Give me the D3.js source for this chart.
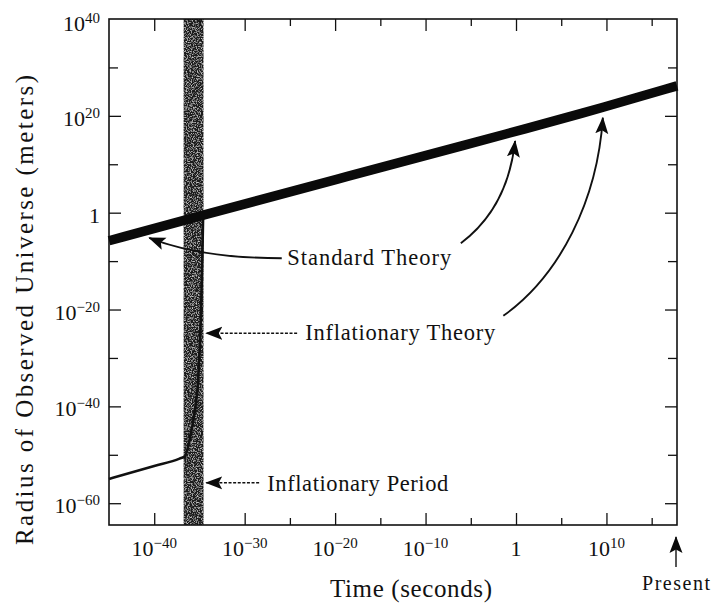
<!DOCTYPE html>
<html>
<head>
<meta charset="utf-8">
<script src="https://cdn.jsdelivr.net/npm/d3@7"></script>
<style>
  body { margin: 0; background: #fff; }
  text { font-family: "Liberation Serif", "Times New Roman", serif; fill: #111; }
</style>
</head>
<body>
<div id="chart"></div>
<script>
// values are base-10 exponents: time in seconds, radius in meters
const standardTime = [-45, -35, -20, -4, 0, 10, 17.8];
const standardRadius = [-5.8, -0.7, 6.8, 14.8, 16.8, 21.9, 26.2];

const inflationTime = [-45, -40, -37.2, -36.6, -36.1, -35.6, -35.15, -34.85, -34.7, -34.6];
const inflationRadius = [-55.0, -52.3, -50.8, -50.3, -47.0, -42.0, -34.6, -22.0, -11.0, -1.2];

const inflationPeriod = [-36.75, -34.55];

const timeTicks = [-40, -35, -30, -25, -20, -15, -10, -5, 0, 5, 10, 15];
const timeLabels = [-40, -30, -20, -10, 0, 10];
const radiusTicks = [-60, -50, -40, -30, -20, -10, 0, 10, 20, 30];
const radiusLabels = [-60, -40, -20, 0, 20, 40];

const width = 712;
const height = 605;
const plotLeft = 109, plotRight = 677, plotTop = 19, plotBottom = 525;

const svg = d3
  .select("#chart")
  .append("svg")
  .attr("width", width)
  .attr("height", height);

const x = d3.scaleLog().domain([1e-45, 10 ** 17.8]).range([plotLeft, plotRight]);
const y = d3.scaleLog().domain([10 ** -64.5, 1e40]).range([plotBottom, plotTop]);
const X = (e) => x(10 ** e);
const Y = (e) => y(10 ** e);
const exp = (d) => Math.round(Math.log10(d));

const defs = svg.append("defs");
const grain = defs.append("filter").attr("id", "grain")
  .attr("x", 0).attr("y", 0).attr("width", 1).attr("height", 1);
grain.append("feTurbulence")
  .attr("type", "fractalNoise").attr("baseFrequency", 0.8)
  .attr("numOctaves", 2).attr("seed", 7).attr("result", "noise");
grain.append("feColorMatrix")
  .attr("in", "noise").attr("type", "matrix")
  .attr("values", "0 0 0 0 0.8  0 0 0 0 0.8  0 0 0 0 0.8  2.2 0 0 0 -1.05")
  .attr("result", "specks");
grain.append("feComposite")
  .attr("in", "specks").attr("in2", "SourceGraphic").attr("operator", "atop");

defs.append("marker")
  .attr("id", "head")
  .attr("viewBox", "0 -7 17 14")
  .attr("refX", 16).attr("refY", 0)
  .attr("markerWidth", 17).attr("markerHeight", 14)
  .attr("markerUnits", "userSpaceOnUse")
  .attr("orient", "auto")
  .append("path")
  .attr("d", "M0,-6.5L17,0L0,6.5L3.5,0Z")
  .attr("fill", "#0a0a0a");

// inflationary period band
svg.append("rect")
  .attr("x", X(inflationPeriod[0]))
  .attr("y", plotTop)
  .attr("width", X(inflationPeriod[1]) - X(inflationPeriod[0]))
  .attr("height", plotBottom - plotTop)
  .attr("fill", "#1f1f1f")
  .attr("filter", "url(#grain)");

// ticks (inward) on all four sides
function tidy(g, lengthFn, sign, vertical) {
  g.select(".domain").remove();
  g.selectAll(".tick line")
    .attr("stroke", "#111")
    .attr("stroke-width", 1.3)
    .attr(vertical ? "y2" : "x2", (d) => sign * lengthFn(d));
}
const timeLen = (d) => (exp(d) % 10 === 0 ? 12 : 7);
const radiusLen = (d) => (exp(d) % 20 === 0 ? 12 : 9);
const tv = timeTicks.map((e) => 10 ** e);
const rv = radiusTicks.map((e) => 10 ** e);

svg.append("g").attr("transform", `translate(0,${plotBottom})`)
  .call(d3.axisBottom(x).tickValues(tv).tickFormat("").tickSizeOuter(0))
  .call((g) => tidy(g, timeLen, -1, true));
svg.append("g").attr("transform", `translate(0,${plotTop})`)
  .call(d3.axisTop(x).tickValues(tv).tickFormat("").tickSizeOuter(0))
  .call((g) => tidy(g, timeLen, 1, true));
svg.append("g").attr("transform", `translate(${plotLeft},0)`)
  .call(d3.axisLeft(y).tickValues(rv).tickFormat("").tickSizeOuter(0))
  .call((g) => tidy(g, radiusLen, 1, false));
svg.append("g").attr("transform", `translate(${plotRight},0)`)
  .call(d3.axisRight(y).tickValues(rv).tickFormat("").tickSizeOuter(0))
  .call((g) => tidy(g, radiusLen, -1, false));

svg.append("rect")
  .attr("x", plotLeft).attr("y", plotTop)
  .attr("width", plotRight - plotLeft).attr("height", plotBottom - plotTop)
  .attr("fill", "none").attr("stroke", "#111").attr("stroke-width", 1.6);

// tick labels with superscripts
function powerLabel(sel, e) {
  if (e === 0) {
    sel.text("1");
    return;
  }
  sel.append("tspan").text("10");
  sel.append("tspan")
    .attr("font-size", 15).attr("dy", -8)
    .text(e < 0 ? "\u2212" + Math.abs(e) : String(e));
}

timeLabels.forEach((e) => {
  svg.append("text")
    .attr("x", X(e)).attr("y", 556)
    .attr("text-anchor", "middle").attr("font-size", 22)
    .call(powerLabel, e);
});
radiusLabels.forEach((e) => {
  svg.append("text")
    .attr("x", 100).attr("y", Math.max(Y(e) + 10, plotTop + 12))
    .attr("text-anchor", "end").attr("font-size", 22)
    .call(powerLabel, e);
});

// curves
const line = d3.line()
  .x((d) => X(d[0]))
  .y((d) => Y(d[1]))
  .curve(d3.curveMonotoneX);

svg.append("path")
  .datum(d3.zip(inflationTime, inflationRadius))
  .attr("d", line)
  .attr("fill", "none").attr("stroke", "#111").attr("stroke-width", 2.6);

svg.append("path")
  .datum(d3.zip(standardTime, standardRadius))
  .attr("d", line.curve(d3.curveBasis))
  .attr("fill", "none").attr("stroke", "#0a0a0a").attr("stroke-width", 9.5);

// annotations (positions in exponent space)
const P = (t, r) => `${X(t)},${Y(r)}`;
const arrows = [
  { d: `M${P(-25.9, -9.4)}Q${P(-34.9, -9.4)} ${P(-40.55, -5.2)}`, dash: null },
  { d: `M${P(-6.1, -6.3)}Q${P(-0.9, 1.0)} ${P(-0.1, 14.8)}`, dash: null },
  { d: `M${P(-1.4, -21.3)}C${P(4.9, -12.9)} ${P(9.0, 2.6)} ${P(9.6, 19.6)}`, dash: null },
  { d: `M${P(-24.2, -24.9)}L${P(-34.25, -24.9)}`, dash: "3,1.6" },
  { d: `M${P(-28.4, -55.8)}L${P(-34.25, -55.8)}`, dash: "3,1.6" },
];
arrows.forEach((a) => {
  svg.append("path")
    .attr("d", a.d)
    .attr("fill", "none").attr("stroke", "#111")
    .attr("stroke-width", a.dash ? 1.5 : 1.9)
    .attr("stroke-dasharray", a.dash)
    .attr("marker-end", "url(#head)");
});

const notes = [
  { text: "Standard Theory", t: -25.3, r: -10.8, len: 164 },
  { text: "Inflationary Theory", t: -23.3, r: -26.3, len: 190 },
  { text: "Inflationary Period", t: -27.5, r: -57.5, len: 181 },
];
notes.forEach((n) => {
  svg.append("text")
    .attr("x", X(n.t)).attr("y", Y(n.r))
    .attr("font-size", 22.5)
    .attr("textLength", n.len)
    .text(n.text);
});

// present marker below the axis
const px = x.range()[1] - 1;
svg.append("path")
  .attr("d", `M${px},${plotBottom + 42}L${px},${plotBottom + 12}`)
  .attr("stroke", "#111").attr("stroke-width", 1.4)
  .attr("marker-end", "url(#head)");
svg.append("text")
  .attr("x", px).attr("y", 590)
  .attr("text-anchor", "middle").attr("font-size", 20)
  .attr("textLength", 68)
  .text("Present");

// axis titles
svg.append("text")
  .attr("x", 411).attr("y", 597)
  .attr("text-anchor", "middle").attr("font-size", 25)
  .attr("textLength", 162)
  .text("Time (seconds)");
svg.append("text")
  .attr("transform", "translate(33,310) rotate(-90)")
  .attr("text-anchor", "middle").attr("font-size", 25)
  .attr("textLength", 470)
  .text("Radius of Observed Universe (meters)");
</script>
</body>
</html>
